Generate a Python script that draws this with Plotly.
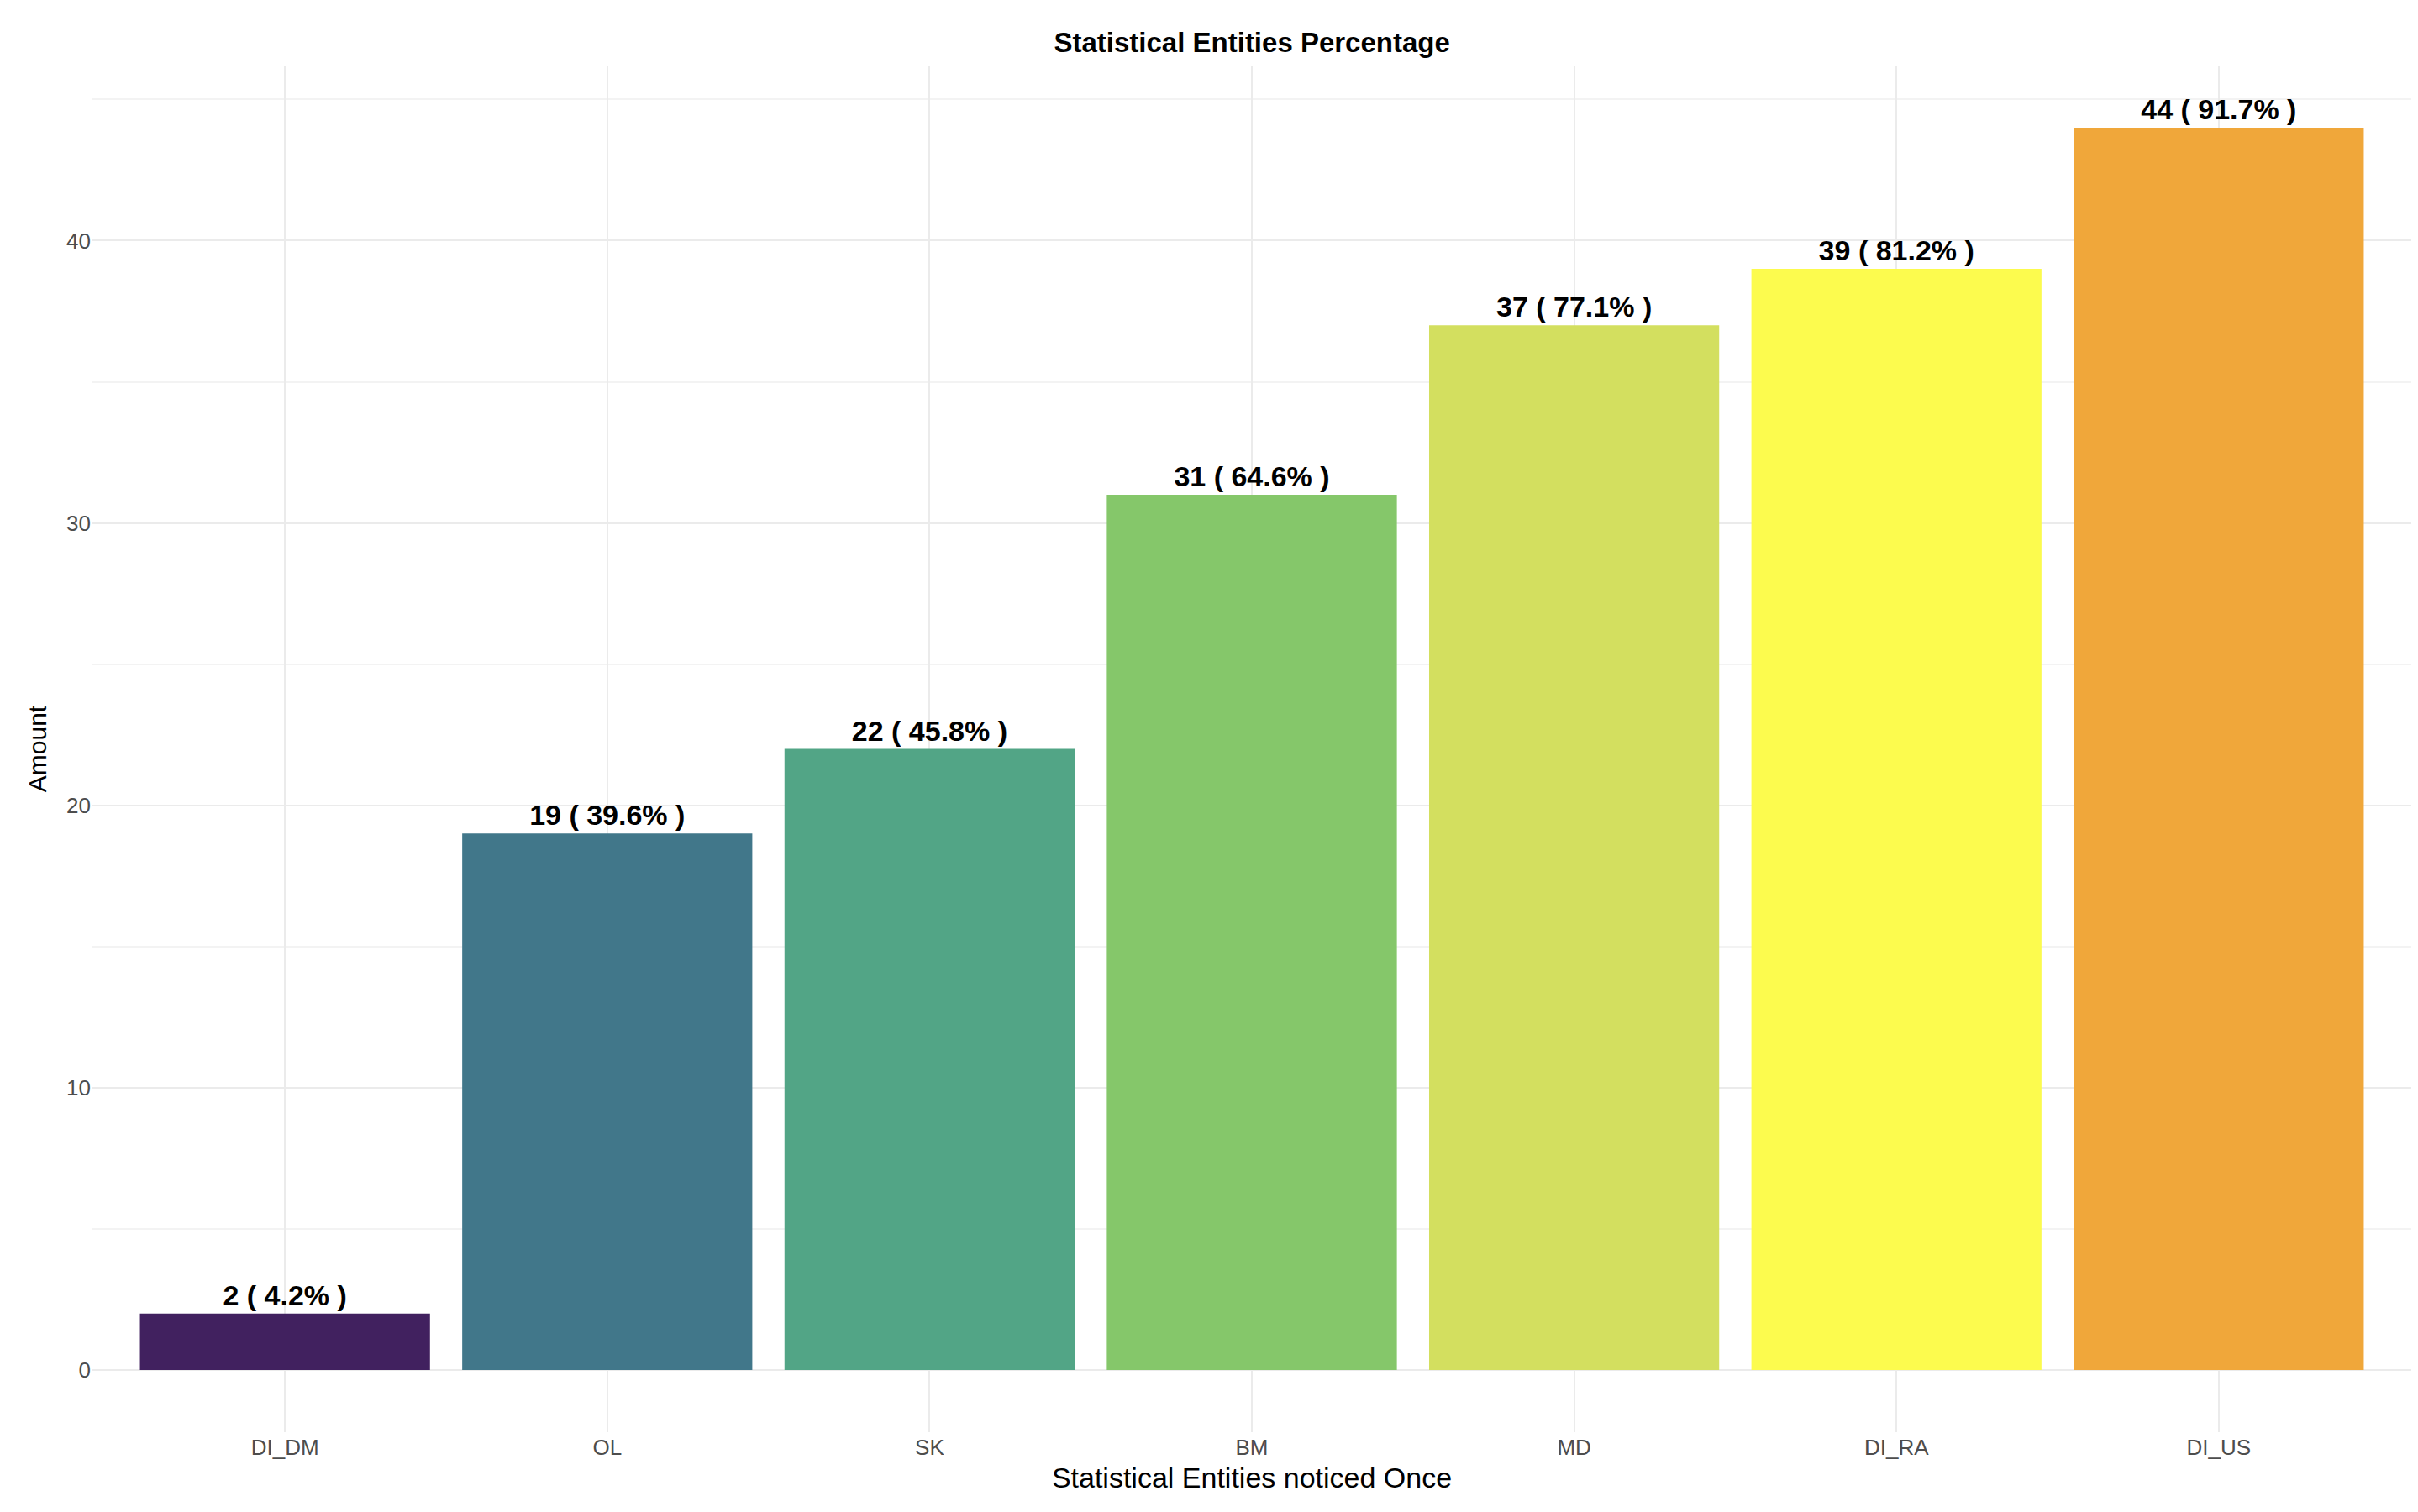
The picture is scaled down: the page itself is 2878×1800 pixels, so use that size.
import plotly.graph_objects as go

categories = ["DI_DM", "OL", "SK", "BM", "MD", "DI_RA", "DI_US"]
amounts = [2, 19, 22, 31, 37, 39, 44]
percents = ["4.2%", "39.6%", "45.8%", "64.6%", "77.1%", "81.2%", "91.7%"]
colors = ["#41215F", "#41778A", "#52A586", "#85C76A", "#D3DF5F", "#FCFB4E", "#F0A73A"]
labels = [f"{a} ( {p} )" for a, p in zip(amounts, percents)]

fig = go.Figure(go.Bar(
    x=categories, y=amounts, width=0.9, marker_color=colors, marker_line_width=0,
    text=labels, textposition="outside", cliponaxis=False,
    textfont=dict(family="Liberation Sans", size=34, color="black", weight="bold"),
))
fig.update_layout(
    width=2878, height=1800, plot_bgcolor="white", paper_bgcolor="white",
    margin=dict(l=101, r=15, t=70, b=103),
    font=dict(family="Liberation Sans", color="#4D4D4D"),
    title=dict(text="<b>Statistical Entities Percentage</b>", x=0.515, xanchor="center",
               y=0.983, yanchor="top", font=dict(size=33, color="black")),
    showlegend=False, bargap=0.1,
)
fig.update_xaxes(title=dict(text="Statistical Entities noticed Once", font=dict(size=34, color="black"), standoff=10),
                 tickfont=dict(size=26), showgrid=True, gridcolor="#EBEBEB", gridwidth=2,
                 zeroline=False, ticks="", range=[-0.6, 6.6])
fig.update_yaxes(title=dict(text="Amount", font=dict(size=30, color="black"), standoff=14),
                 tickfont=dict(size=26), range=[-2.2, 46.2], tickvals=[0, 10, 20, 30, 40],
                 showgrid=True, gridcolor="#EBEBEB", gridwidth=2, zeroline=False, ticks="",
                 minor=dict(tickvals=[5, 15, 25, 35, 45], showgrid=True, gridcolor="#F3F3F3", gridwidth=1.5))
fig.write_html("out.html")
